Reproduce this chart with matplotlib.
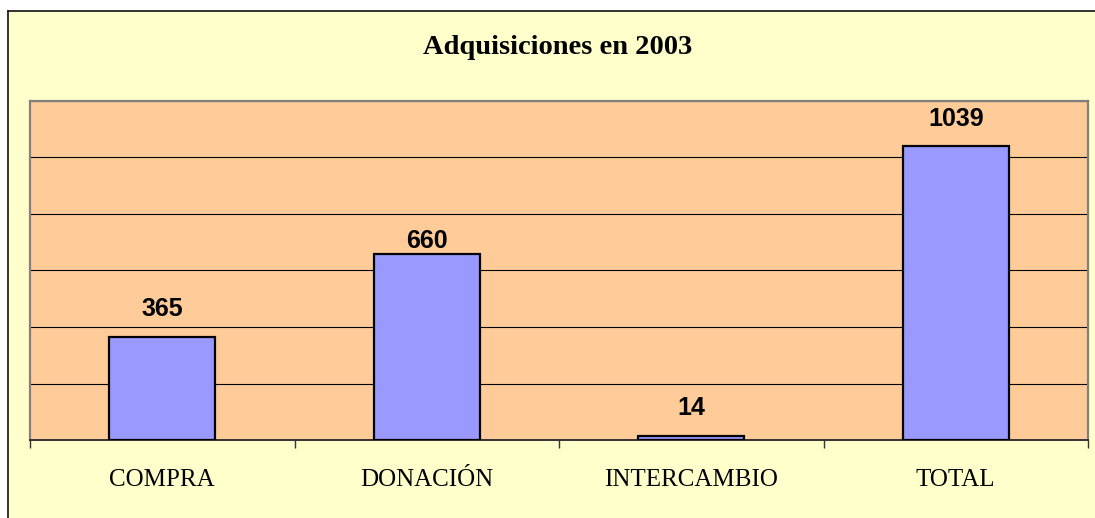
import matplotlib.pyplot as plt
from matplotlib.patches import Rectangle
from matplotlib.lines import Line2D
from matplotlib.ticker import MultipleLocator

# adquisiciones por tipo
categorias = ["COMPRA", "DONACIÓN", "INTERCAMBIO", "TOTAL"]
cantidades = [365, 660, 14, 1039]
# distancia de cada etiqueta sobre su barra (puntos)
desplaz_etiquetas = [15, 4, 15, 15]

W, H = 1095, 518
fig = plt.figure(figsize=(W / 100, H / 100), dpi=100)
fig.patch.set_facecolor("white")

# fondo amarillo del grafico con borde arriba/izquierda
fig.patches.append(Rectangle((8 / W, 0), 1, 1 - 11 / H, transform=fig.transFigure,
                             facecolor="#FFFFCC", edgecolor="none", zorder=-2))
fig.lines.append(Line2D([8 / W, 8 / W], [0, 1 - 11 / H], transform=fig.transFigure,
                        color="#222222", lw=1.3, zorder=-1))
fig.lines.append(Line2D([8 / W, 1], [1 - 11 / H, 1 - 11 / H], transform=fig.transFigure,
                        color="#222222", lw=1.3, zorder=-1))

ax = fig.add_axes([30 / W, 1 - 440 / H, (1088 - 30) / W, (440 - 101) / H])
ax.set_facecolor("#FFCC99")

x = list(range(len(categorias)))
bars = ax.bar(x, cantidades, width=0.4, color="#9999FF", edgecolor="black",
              linewidth=1.6, zorder=3)

for xi, v, off in zip(x, cantidades, desplaz_etiquetas):
    ax.annotate(str(v), (xi, v), xytext=(0, off), textcoords="offset points",
                ha="center", va="baseline", fontsize=18, fontweight="bold",
                family="Liberation Sans", zorder=4)

ax.set_xlim(-0.5, len(categorias) - 0.5)
ax.set_ylim(0, 1200)
ax.yaxis.set_major_locator(MultipleLocator(200))
ax.grid(axis="y", color="black", lw=0.8, zorder=1)
ax.tick_params(axis="y", left=False, labelleft=False)

ax.set_xticks(x)
ax.set_xticklabels(categorias, family="Liberation Serif", fontsize=18)
ax.set_xticks([i - 0.5 for i in range(len(categorias) + 1)], minor=True)
ax.tick_params(axis="x", which="major", length=0, pad=21)
ax.tick_params(axis="x", which="minor", length=6, width=1, color="#333333", direction="out")

for side in ["left", "top", "right"]:
    ax.spines[side].set_color("#808080")
    ax.spines[side].set_linewidth(1.6)
ax.spines["bottom"].set_color("#333333")
ax.spines["bottom"].set_linewidth(1.4)

fig.text(558 / W, 1 - 54 / H, "Adquisiciones en 2003", ha="center", va="baseline",
         family="Liberation Serif", fontweight="bold", fontsize=20.5)

fig.savefig("out.png", dpi=100)
